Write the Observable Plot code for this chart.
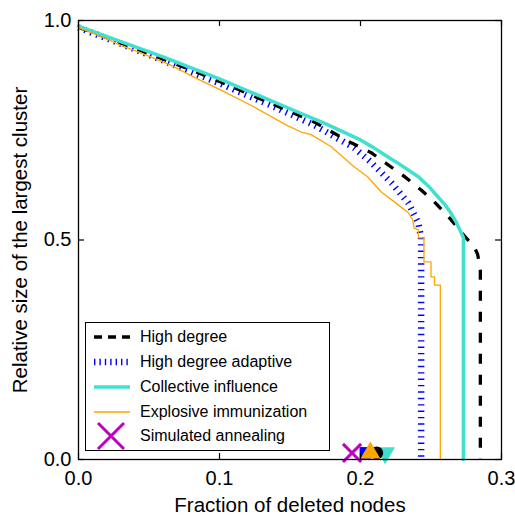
<!DOCTYPE html>
<html>
<head>
<meta charset="utf-8">
<script src="https://cdn.jsdelivr.net/npm/d3@7"></script>
<script src="https://cdn.jsdelivr.net/npm/@observablehq/plot@0.6"></script>
<style>
  html, body { margin: 0; padding: 0; background: white; }
  #wrap { position: relative; width: 515px; height: 516px; font-family: "Liberation Sans", Arial, sans-serif; }
  #legend { position: absolute; left: 85px; top: 322px; width: 243px; height: 127px; border: 1px solid black; background: white; }
  #legend .row { position: absolute; left: 0; height: 24px; width: 243px; }
  #legend svg { position: absolute; left: 0; top: 0; }
  #legend span { position: absolute; left: 54px; top: 2px; font-size: 16px; line-height: 19px; color: black; white-space: nowrap; }
</style>
</head>
<body>
<div id="wrap"></div>
<script>
// ---- data ----
const highDegree = [[0,0.985],[0.03,0.949],[0.06,0.912],[0.085,0.881],[0.1,0.861],[0.139,0.808],[0.167,0.769],[0.193,0.722],[0.2075,0.699],[0.217,0.677],[0.231,0.645],[0.243,0.614],[0.252,0.588],[0.258,0.568],[0.264,0.547],[0.270,0.524],[0.274,0.508],[0.278,0.494],[0.281,0.482],[0.283,0.468],[0.284,0.452],[0.285,0.43],[0.285,0]];
const highDegreeAdaptive = [[0,0.984],[0.03,0.947],[0.06,0.909],[0.1,0.857],[0.139,0.803],[0.167,0.762],[0.1955,0.710],[0.2075,0.677],[0.222,0.630],[0.234,0.584],[0.241,0.539],[0.243,0.505],[0.243,0]];
const collectiveInfluence = [[0,0.987],[0.03,0.952],[0.06,0.917],[0.1,0.867],[0.15,0.799],[0.175,0.765],[0.2,0.728],[0.209,0.711],[0.217,0.694],[0.229,0.670],[0.241,0.644],[0.249,0.620],[0.255,0.598],[0.260,0.580],[0.264,0.562],[0.268,0.540],[0.2715,0.516],[0.273,0.505],[0.273,0]];
const explosiveImmunization = [[0,0.984],[0.02,0.958],[0.03,0.943],[0.042,0.929],[0.065,0.899],[0.085,0.866],[0.1,0.843],[0.124,0.804],[0.1485,0.760],[0.158,0.746],[0.165,0.740],[0.179,0.713],[0.195,0.668],[0.205,0.644],[0.2146,0.610],[0.2267,0.580],[0.234,0.562],[0.237,0.546],[0.238,0.527],[0.241,0.523],[0.241,0.505],[0.245,0.505],[0.245,0.45],[0.250,0.45],[0.250,0.416],[0.2525,0.416],[0.2525,0.397],[0.2566,0.397],[0.2566,0]];
// end-point markers
const markerMethods = ["Collective influence", "High degree adaptive", "High degree", "Explosive immunization", "Simulated annealing"];
const markerX = [0.2175, 0.2035, 0.2115, 0.207, 0.194];
const markerY = [0.015, 0.015, 0.015, 0.015, 0.015];
const xTicks = [0, 0.1, 0.2, 0.3];
const yTicks = [0, 0.5, 1.0];
const xLabel = "Fraction of deleted nodes";
const yLabel = "Relative size of the largest cluster";
const legendLabels = ["High degree", "High degree adaptive", "Collective influence", "Explosive immunization", "Simulated annealing"];

// ---- layout ----
const W = 515, H = 516;
const mL = 78, mR = 14, mT = 20, mB = 57;
const xDom = [0, 0.3], yDom = [0, 1];
const tickPx = 6;
const tickDY = tickPx * (yDom[1] - yDom[0]) / (H - mT - mB);
const tickDX = tickPx * (xDom[1] - xDom[0]) / (W - mL - mR);

const pts = (arr) => arr.map(([x, y]) => ({x, y}));
const markers = markerMethods.map((m, i) => ({m, x: markerX[i], y: markerY[i]}));
const mk = (name) => markers.filter(d => d.m === name);
const fmt = d3.format(".1f");

const chart = Plot.plot({
  width: W, height: H,
  marginLeft: mL, marginRight: mR, marginTop: mT, marginBottom: mB,
  x: {domain: xDom},
  y: {domain: yDom},
  style: {fontFamily: '"Liberation Sans", Arial, sans-serif', fontSize: "20px", color: "black", background: "white", overflow: "visible"},
  marks: [
    // curves
    Plot.line(pts(highDegreeAdaptive), {x: "x", y: "y", stroke: "#0000ff", strokeWidth: 6.5, strokeDasharray: "1.4,5", strokeLinecap: "butt", strokeLinejoin: "miter"}),
    Plot.line(pts(highDegree), {x: "x", y: "y", stroke: "black", strokeWidth: 3.3, strokeDasharray: "10,11", strokeLinecap: "butt"}),
    Plot.line(pts(collectiveInfluence), {x: "x", y: "y", stroke: "#40e0d0", strokeWidth: 3.5}),
    Plot.line(pts(explosiveImmunization), {x: "x", y: "y", stroke: "#ffa500", strokeWidth: 1.3}),
    // markers
    Plot.dot(mk("Collective influence"), {x: "x", y: "y", symbol: "triangle", r: 7.3, fill: "#40e0d0", rotate: 180}),
    Plot.dot(mk("High degree adaptive"), {x: "x", y: "y", symbol: "square", r: 6.6, fill: "#0000ff"}),
    Plot.dot(mk("High degree"), {x: "x", y: "y", symbol: "circle", r: 6.5, fill: "black"}),
    Plot.dot(mk("Explosive immunization"), {x: "x", y: "y", symbol: "triangle", r: 7.3, fill: "#ffa500"}),
    Plot.dot(mk("Simulated annealing"), {x: "x", y: "y", symbol: "times", r: 8.3, stroke: "#bf00bf", strokeWidth: 3}),
    // inward ticks on all four sides
    Plot.ruleX(xTicks, {x: d => d, y1: yDom[0], y2: yDom[0] + tickDY, stroke: "black", strokeWidth: 1.2}),
    Plot.ruleX(xTicks, {x: d => d, y1: yDom[1] - tickDY, y2: yDom[1], stroke: "black", strokeWidth: 1.2}),
    Plot.ruleY(yTicks, {y: d => d, x1: xDom[0], x2: xDom[0] + tickDX, stroke: "black", strokeWidth: 1.2}),
    Plot.ruleY(yTicks, {y: d => d, x1: xDom[1] - tickDX, x2: xDom[1], stroke: "black", strokeWidth: 1.2}),
    // tick labels
    Plot.axisX({ticks: xTicks, tickSize: 0, tickPadding: 11, tickFormat: fmt, label: null, fontSize: 20}),
    Plot.axisY({ticks: yTicks, tickSize: 0, tickPadding: 7, tickFormat: fmt, label: null, fontSize: 20}),
    // axis titles
    Plot.text([xLabel], {text: d => d, frameAnchor: "bottom", dy: 46, lineAnchor: "middle", textAnchor: "middle", fontSize: 20.5}),
    Plot.text([yLabel], {text: d => d, frameAnchor: "left", dx: -58, rotate: -90, lineAnchor: "middle", textAnchor: "middle", fontSize: 20.5}),
    Plot.frame({stroke: "black", strokeWidth: 1.3})
  ]
});

const wrap = document.getElementById("wrap");
wrap.appendChild(chart);

// legend (in-axes box)
const legend = document.createElement("div");
legend.id = "legend";
const rowTops = [2, 27, 52, 77, 101];
const samples = [
  `<line x1="8" x2="44" y1="12" y2="12" stroke="black" stroke-width="3.3" stroke-dasharray="8,6"/>`,
  `<line x1="8" x2="44" y1="12" y2="12" stroke="#0000ff" stroke-width="6.5" stroke-dasharray="1.4,4"/>`,
  `<line x1="8" x2="44" y1="12" y2="12" stroke="#40e0d0" stroke-width="3.5"/>`,
  `<line x1="8" x2="44" y1="12" y2="12" stroke="#ffa500" stroke-width="1.3"/>`,
  `<path d="M12,-1 L38,25 M38,-1 L12,25" stroke="#bf00bf" stroke-width="3"/>`
];
legendLabels.forEach((lab, i) => {
  const row = document.createElement("div");
  row.className = "row";
  row.style.top = rowTops[i] + "px";
  row.innerHTML = `<svg width="54" height="24" style="overflow:visible">${samples[i]}</svg><span>${lab}</span>`;
  legend.appendChild(row);
});
wrap.appendChild(legend);
</script>
</body>
</html>
